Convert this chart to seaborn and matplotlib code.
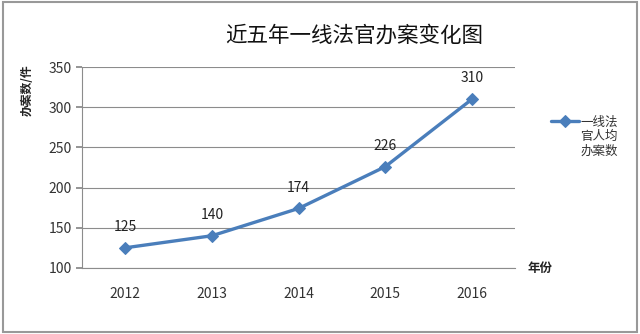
import matplotlib
matplotlib.use("Agg")
import matplotlib.pyplot as plt
import seaborn as sns
import pandas as pd
from matplotlib.patches import Rectangle

years = ["2012", "2013", "2014", "2015", "2016"]
cases = [125, 140, 174, 226, 310]
series_name = "一线法\n官人均\n办案数"
title = "近五年一线法官办案变化图"
ylabel = "办案数/件"
xlabel = "年份"
yticks = [100, 150, 200, 250, 300, 350]

sns.set_theme(style="white")
plt.rcParams['font.family'] = ['Noto Sans CJK SC', 'DejaVu Sans']

df = pd.DataFrame({"year": years, "cases": cases, "x": range(len(years))})

fig = plt.figure(figsize=(6.4, 3.34), dpi=100)
ax = fig.add_axes([0.128, 0.198, 0.677, 0.601])

color = "#4A7EBB"
sns.lineplot(data=df, x="x", y="cases", ax=ax, color=color, linewidth=2.4,
             marker="D", markersize=6, markeredgecolor=color, label=series_name)

ax.set_xlim(-0.5, len(years) - 0.5)
ax.set_ylim(100, 350)
ax.set_yticks(yticks)
ax.set_xticks(range(len(years)))
ax.set_xticklabels(years)
ax.set_xticks([i - 0.5 for i in range(len(years) + 1)], minor=True)
ax.tick_params(axis="x", which="major", length=0, labelsize=10, pad=14, colors="#333333")
ax.tick_params(axis="x", which="minor", length=5, direction="in", color="#888888", width=0.8)
ax.tick_params(axis="y", which="major", length=4, direction="out", color="#888888",
               labelsize=10, colors="#333333", left=True)
ax.yaxis.grid(True, color="#8c8c8c", linewidth=0.8)
ax.set_axisbelow(True)
for s in ["top", "right"]:
    ax.spines[s].set_visible(False)
for s in ["left", "bottom"]:
    ax.spines[s].set_color("#8c8c8c")
    ax.spines[s].set_linewidth(0.8)
ax.set_xlabel("")
ax.set_ylabel("")

for i, v in enumerate(cases):
    ax.annotate(str(v), (i, v), xytext=(0, 10), textcoords="offset points",
                ha="center", va="bottom", fontsize=10, color="#222222")

fig.text(0.553, 0.895, title, ha="center", va="center", fontsize=15.5, color="#111111")
fig.text(0.042, 0.73, ylabel, rotation=90, ha="center", va="center", fontsize=8.5,
         fontweight="bold", color="#222222")
fig.text(0.824, 0.195, xlabel, ha="left", va="center", fontsize=9,
         fontweight="bold", color="#222222")

leg = ax.legend(loc="upper left", bbox_to_anchor=(1.07, 0.78), frameon=False,
                fontsize=9, handlelength=2.3, handletextpad=0.1, borderaxespad=0,
                labelspacing=0.2)
for col in leg._legend_handle_box.get_children():
    for item in col.get_children():
        item.align = "top"
for t in leg.get_texts():
    t.set_color("#333333")
    t.set_linespacing(1.1)

fig.patches.append(Rectangle((0.004, 0.006), 0.992, 0.988, transform=fig.transFigure,
                             fill=False, edgecolor="#999999", linewidth=1.5))

fig.savefig("out.png", dpi=100)
